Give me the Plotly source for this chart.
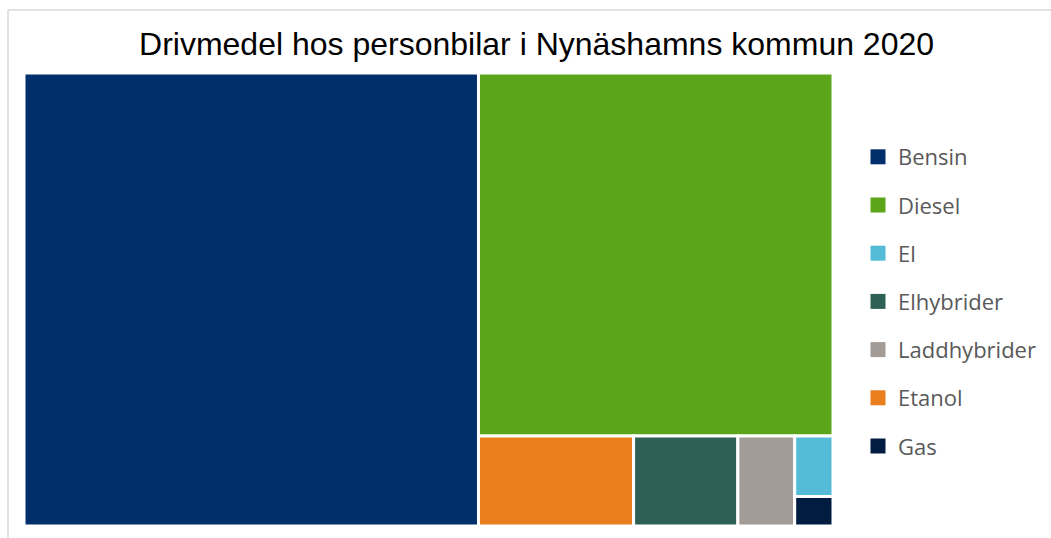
import plotly.graph_objects as go

categories = ["Bensin", "Diesel", "El", "Elhybrider", "Laddhybrider", "Etanol", "Gas"]
values = [7280, 4550, 82, 332, 181, 494, 40]
colors = ["#002F6C", "#5AA51A", "#54BCD6", "#2E6156", "#A39B96", "#E97E1E", "#001C40"]

W, H = 1051, 538
ML, MR, MT, MB = 24, 0, 73, 12
PW = W - ML - MR
PH = H - MT - MB

fig = go.Figure()
fig.add_trace(go.Treemap(
    labels=categories,
    parents=[""] * len(categories),
    values=values,
    marker=dict(colors=colors, line=dict(color="white", width=3),
                pad=dict(t=0, l=0, r=0, b=0)),
    textinfo="none",
    hoverinfo="label+value",
    pathbar=dict(visible=False),
    sort=True,
    tiling=dict(packing="squarify", pad=0),
    domain=dict(x=[0, 809 / PW], y=[0, 1]),
))

for c, col in zip(categories, colors):
    fig.add_trace(go.Scatter(
        x=[None], y=[None], mode="markers", name=c,
        marker=dict(symbol="square", size=15, color=col),
        legendgroup=c, showlegend=True, hoverinfo="skip",
    ))

fig.update_layout(
    width=W, height=H,
    margin=dict(l=ML, r=MR, t=MT, b=MB),
    paper_bgcolor="white", plot_bgcolor="white",
    title=dict(text="Drivmedel hos personbilar i Nynäshamns kommun 2020",
               x=0.5105, xanchor="center", y=0.918, yanchor="middle",
               font=dict(family="Liberation Sans, Arial, sans-serif", size=32, color="#000000")),
    xaxis=dict(visible=False, domain=[0.9, 1]), yaxis=dict(visible=False),
    showlegend=True,
    legend=dict(x=(858 - ML) / PW, xanchor="left", y=1 - (136 - MT) / PH, yanchor="top",
                traceorder="grouped", tracegroupgap=16.6,
                font=dict(family="Open Sans, sans-serif", size=22, color="#595959"),
                bgcolor="rgba(0,0,0,0)", itemclick=False, itemdoubleclick=False),
    shapes=[
        dict(type="line", xref="paper", yref="paper", x0=-16 / PW, x1=1.05,
             y0=(H - MB - 10) / PH, y1=(H - MB - 10) / PH,
             line=dict(color="#D9D9D9", width=1.5)),
        dict(type="line", xref="paper", yref="paper", x0=-16 / PW, x1=-16 / PW,
             y0=(H - MB - 10) / PH, y1=-0.1,
             line=dict(color="#D9D9D9", width=1.5)),
    ],
)

fig.write_html("out.html")
